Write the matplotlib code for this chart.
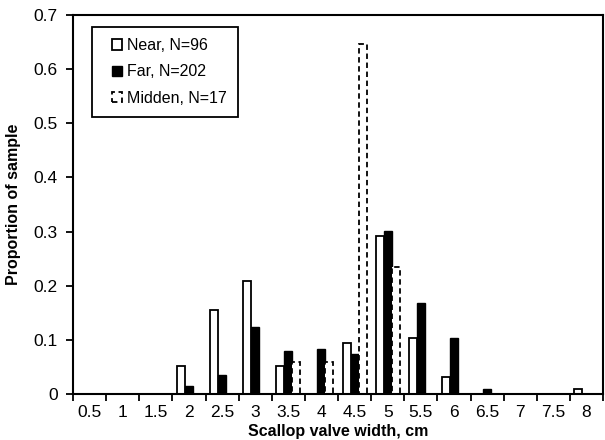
import matplotlib.pyplot as plt
import numpy as np
from matplotlib.legend_handler import HandlerPatch
from matplotlib.patches import Rectangle
from matplotlib.ticker import FixedLocator, FuncFormatter

plt.rcParams["font.family"] = ["Liberation Sans", "DejaVu Sans"]

widths = ["0.5", "1", "1.5", "2", "2.5", "3", "3.5", "4",
          "4.5", "5", "5.5", "6", "6.5", "7", "7.5", "8"]
near = [0, 0, 0, 0.052, 0.156, 0.208, 0.052, 0,
        0.094, 0.292, 0.104, 0.031, 0, 0, 0, 0.010]
far = [0, 0, 0, 0.015, 0.035, 0.124, 0.079, 0.084,
       0.074, 0.302, 0.168, 0.104, 0.010, 0, 0, 0]
midden = [0, 0, 0, 0, 0, 0, 0.059, 0.059,
          0.647, 0.235, 0, 0, 0, 0, 0, 0]
labels = ["Near, N=96", "Far, N=202", "Midden, N=17"]

styles = [
    dict(facecolor="white", edgecolor="black", linewidth=1.3),
    dict(facecolor="black", edgecolor="black", linewidth=1.0),
    dict(facecolor="white", edgecolor="black", linewidth=1.3, linestyle=(0, (3, 2))),
]


def square_patch(legend, orig_handle, xdescent, ydescent, width, height, fontsize):
    # small square handle pushed to the right of the handle box
    s = height * 0.95
    return Rectangle((width - s - xdescent, (height - s) / 2 - ydescent), s, s)


fig = plt.figure(figsize=(6.05, 4.4), dpi=100)
ax = fig.add_axes([0.1207, 0.1045, 0.8760, 0.8614])

x = np.arange(len(widths))
bw = 0.242
for offset, vals, st in zip([-bw, 0, bw], [near, far, midden], styles):
    ax.bar(x + offset, vals, bw, **st)

ax.set_xlim(-0.5, len(widths) - 0.5)
ax.set_ylim(0, 0.7)
ax.set_xticks(x)
ax.set_xticklabels(widths)
ax.xaxis.set_minor_locator(FixedLocator(np.arange(-0.5, len(widths), 1.0)))
ax.tick_params(axis="x", which="major", length=0, pad=8, labelsize=12.5)
ax.tick_params(axis="x", which="minor", length=5, width=1.3, direction="out")
ax.set_yticks(np.arange(0, 0.71, 0.1))
ax.yaxis.set_major_formatter(FuncFormatter(lambda v, p: "0" if abs(v) < 1e-9 else f"{v:.1f}"))
ax.tick_params(axis="y", length=5, width=1.3, direction="out", labelsize=12.5, pad=6)

for s in ax.spines.values():
    s.set_linewidth(1.5)

ax.set_xlabel("Scallop valve width, cm", fontsize=11.5, fontweight="bold", labelpad=3)
ax.set_ylabel("Proportion of sample", fontsize=11.5, fontweight="bold", labelpad=9)

handles = [Rectangle((0, 0), 1, 1, **st) for st in styles]
leg = ax.legend(handles, labels, loc="upper left", bbox_to_anchor=(0.036, 0.968), borderaxespad=0,
                fontsize=11.5, handlelength=1.2, handleheight=0.7, handletextpad=0.3,
                labelspacing=0.7, fancybox=False, framealpha=1, edgecolor="black",
                borderpad=0.7,
                handler_map={Rectangle: HandlerPatch(patch_func=square_patch)})
leg.get_frame().set_linewidth(1.3)

fig.savefig("out.png", dpi=100)
